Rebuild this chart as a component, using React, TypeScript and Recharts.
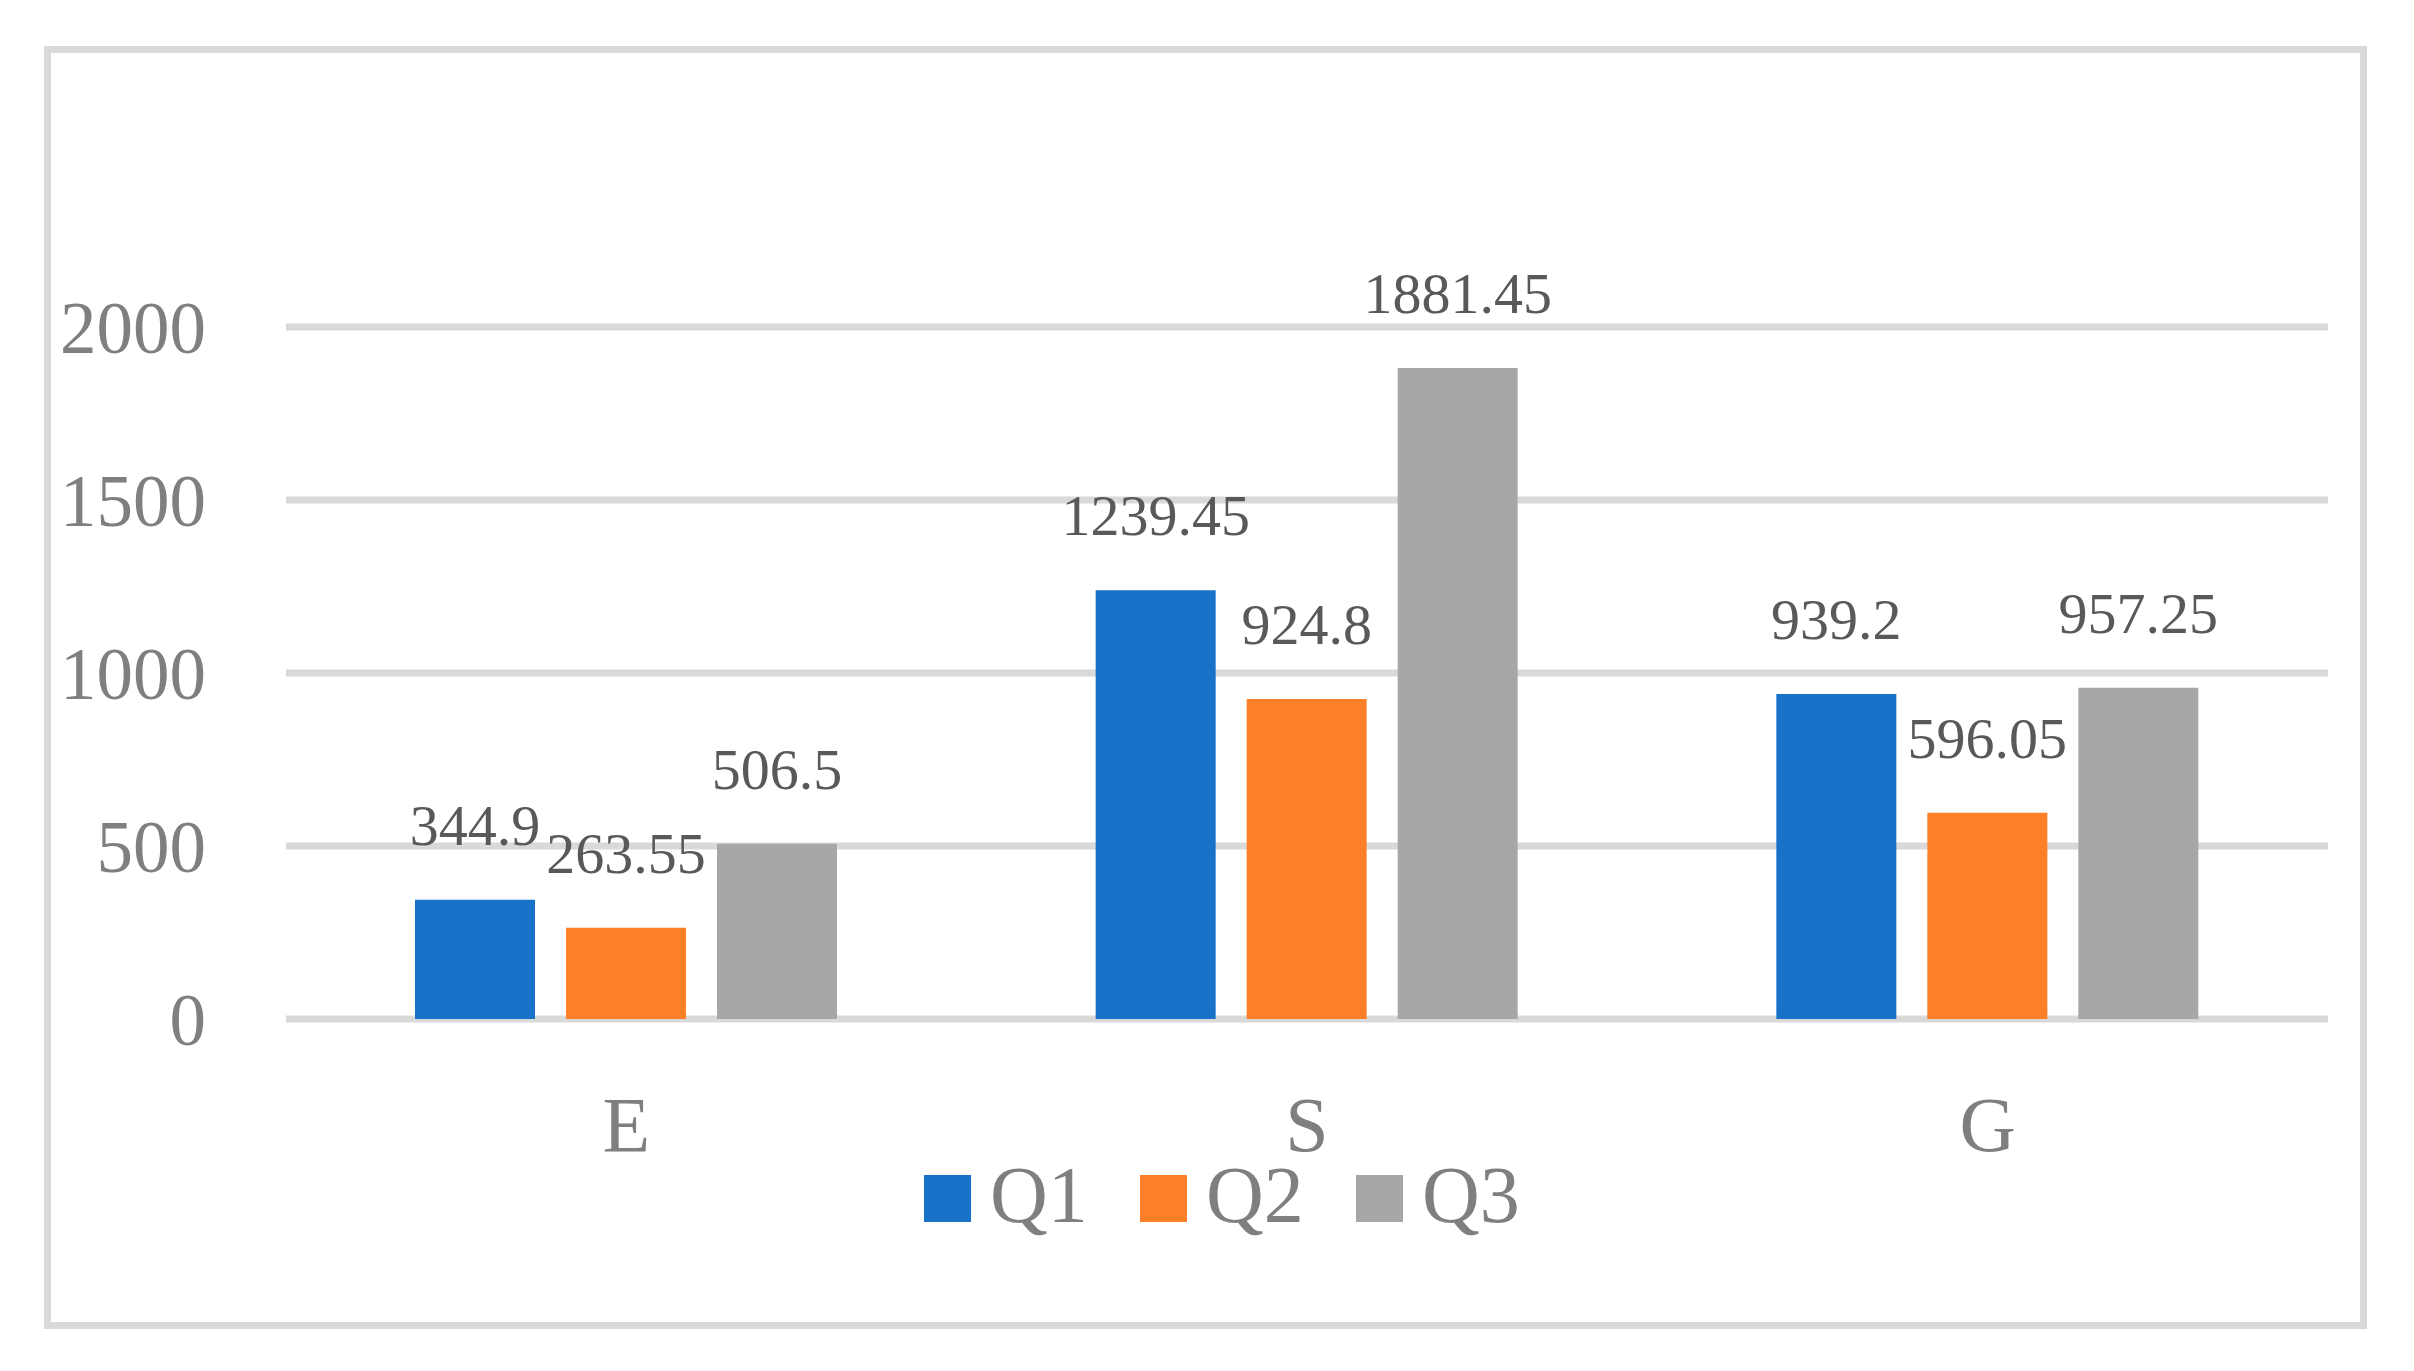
import React from 'react';
import { BarChart, Bar, XAxis, YAxis, CartesianGrid, Legend, LabelList } from 'recharts';

const categories = ['E', 'S', 'G'];
const q1 = [344.9, 1239.45, 939.2];
const q2 = [263.55, 924.8, 596.05];
const q3 = [506.5, 1881.45, 957.25];
const seriesNames = ['Q1', 'Q2', 'Q3'];
const yTicks = [0, 500, 1000, 1500, 2000];

const colors = ['#1872c8', '#fd7f28', '#a7a7a7'];
const font = '"Liberation Serif", "Times New Roman", serif';

const data = categories.map((c, i) => ({ name: c, Q1: q1[i], Q2: q2[i], Q3: q3[i] }));

const renderLegend = (props: any) => {
  const items = props.payload || [];
  return (
    <div style={{ display: 'flex', fontFamily: font }}>
      {items.map((it: any) => (
        <div key={it.value} style={{ width: 216, display: 'flex', alignItems: 'baseline' }}>
          <div style={{ width: 47, height: 47, background: it.color }} />
          <span style={{ marginLeft: 19, fontSize: 80, lineHeight: '90px', color: '#7f7f7f' }}>{it.value}</span>
        </div>
      ))}
    </div>
  );
};

const App = () => {
  return (
    <div style={{ position: 'absolute', left: 0, top: 0, width: 2414, height: 1371, background: '#fff' }}>
      <div
        style={{
          position: 'absolute', left: 44, top: 46, width: 2323, height: 1283,
          boxSizing: 'border-box', border: '7px solid #d9d9d9',
        }}
      />
      <div style={{ position: 'absolute', left: 0, top: 0 }}>
        <BarChart
          width={2414}
          height={1371}
          data={data}
          barGap={31}
          margin={{ top: 327, right: 86, left: 0, bottom: 202 }}
        >
          <CartesianGrid vertical={false} stroke="#d9d9d9" strokeWidth={7} />
          <XAxis
            dataKey="name"
            axisLine={false}
            tickLine={false}
            tickSize={0}
            tickMargin={77}
            height={150}
            tick={{ fill: '#7f7f7f', fontSize: 78, fontFamily: font }}
          />
          <YAxis
            domain={[0, 2000]}
            ticks={yTicks}
            axisLine={false}
            tickLine={false}
            tickSize={0}
            tickMargin={80}
            width={286}
            tick={{ fill: '#7f7f7f', fontSize: 73, fontFamily: font }}
          />
          <Legend
            layout="horizontal"
            verticalAlign="middle"
            align="center"
            wrapperStyle={{ left: 924, top: 1150 }}
            content={renderLegend}
          />
          {seriesNames.map((s, i) => (
            <Bar key={s} dataKey={s} name={s} fill={colors[i]} barSize={120} isAnimationActive={false}>
              <LabelList dataKey={s} position="top" offset={55} fill="#595959" fontSize={58} fontFamily={font} />
            </Bar>
          ))}
        </BarChart>
      </div>
    </div>
  );
};

export default App;
